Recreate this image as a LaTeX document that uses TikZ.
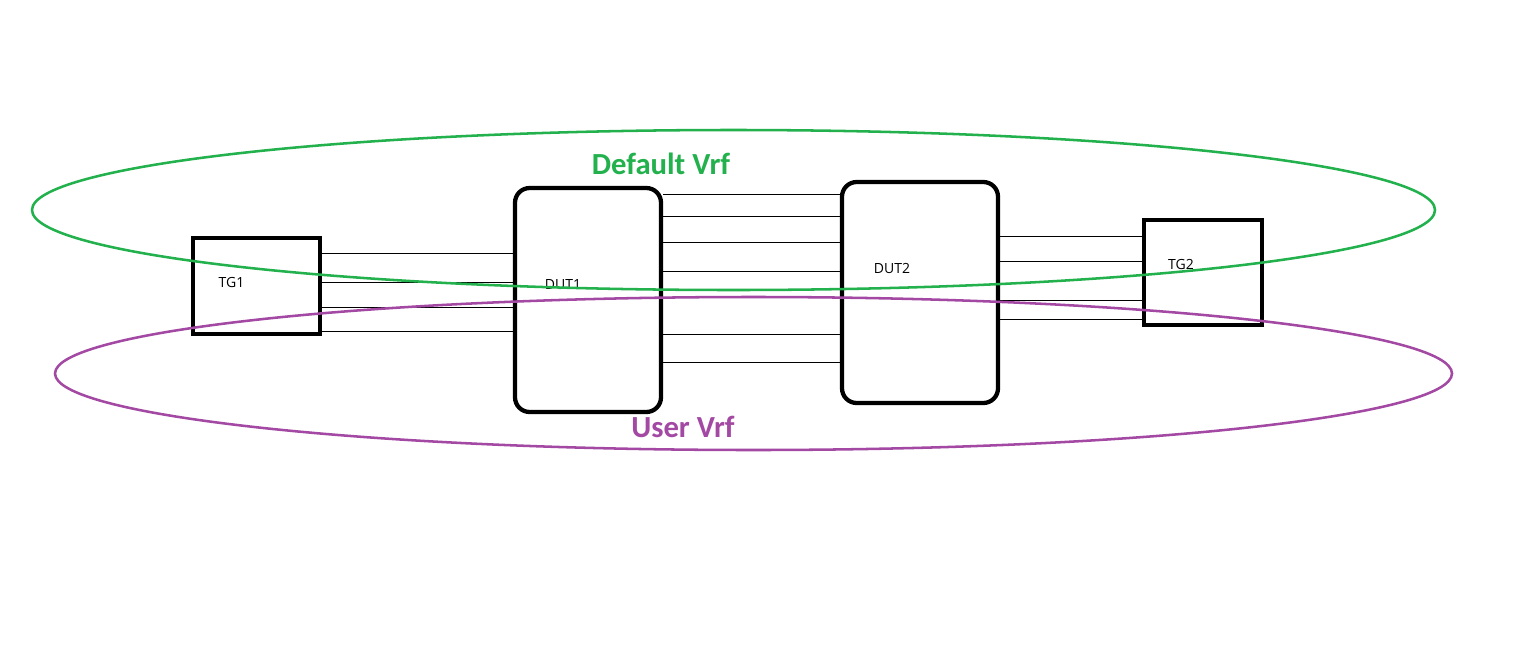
\documentclass[tikz,border=0pt]{standalone}
\usepackage{fontspec}
\setmainfont{Carlito}
\newfontfamily\smallfont{Open Sans}
\usetikzlibrary{shapes.geometric}
\definecolor{vgreen}{HTML}{22B14C}
\definecolor{vpurple}{HTML}{A349A4}
\begin{document}
\begin{tikzpicture}[x=0.75pt,y=-0.75pt,
  box/.style={draw=black,line width=3.2pt,inner sep=0pt},
  link/.style={draw=black,line width=0.75pt},
  lbl/.style={font=\smallfont\fontsize{10.5}{12}\selectfont,inner sep=0pt},
  vrf/.style={ellipse,draw,line width=1.9pt,inner sep=0pt},
  vrflbl/.style={font=\fontsize{23}{25}\selectfont\bfseries,inner sep=0pt}]
\useasboundingbox[fill=white] (0,0) rectangle (1524,650);
% boxes
\node[box,minimum width=95.25pt,minimum height=72pt] (tg1) at (256.5,286) {};
\node[box,rounded corners=11pt,minimum width=109.5pt,minimum height=168pt] (dut1) at (588,300) {};
\node[box,rounded corners=11pt,minimum width=117pt,minimum height=165.75pt] (dut2) at (920,292.5) {};
\node[box,minimum width=88.5pt,minimum height=78.75pt] (tg2) at (1203,272.5) {};
% links TG1 - DUT1
\foreach \y in {253,282,307,331}
  \draw[link] (tg1.east |- 0,\y) -- (dut1.west |- 0,\y);
% links DUT1 - DUT2
\foreach \y in {194,216,242,271,334,362}
  \draw[link] (dut1.east |- 0,\y) -- (dut2.west |- 0,\y);
% links DUT2 - TG2
\foreach \y in {236,261,300,319}
  \draw[link] (dut2.east |- 0,\y) -- (tg2.west |- 0,\y);
% box labels
\node[lbl] (tg1l) at (231.5,282) {TG1};
\node[lbl] (dut1l) at (563,285) {DUT1};
\node[lbl] (dut2l) at (892,268) {DUT2};
\node[lbl] (tg2l) at (1181,264) {TG2};
% vrf ellipses
\node[vrf,draw=vgreen,minimum width=1052.25pt,minimum height=120pt] (defvrf) at (733.5,210) {};
\node[vrf,draw=vpurple,minimum width=1047.75pt,minimum height=114.75pt] (uservrf) at (753.5,373.5) {};
\node[vrflbl,text=vgreen] (defl) at (661,164) {Default Vrf};
\node[vrflbl,text=vpurple] (userl) at (683,427) {User Vrf};
\end{tikzpicture}
\end{document}
